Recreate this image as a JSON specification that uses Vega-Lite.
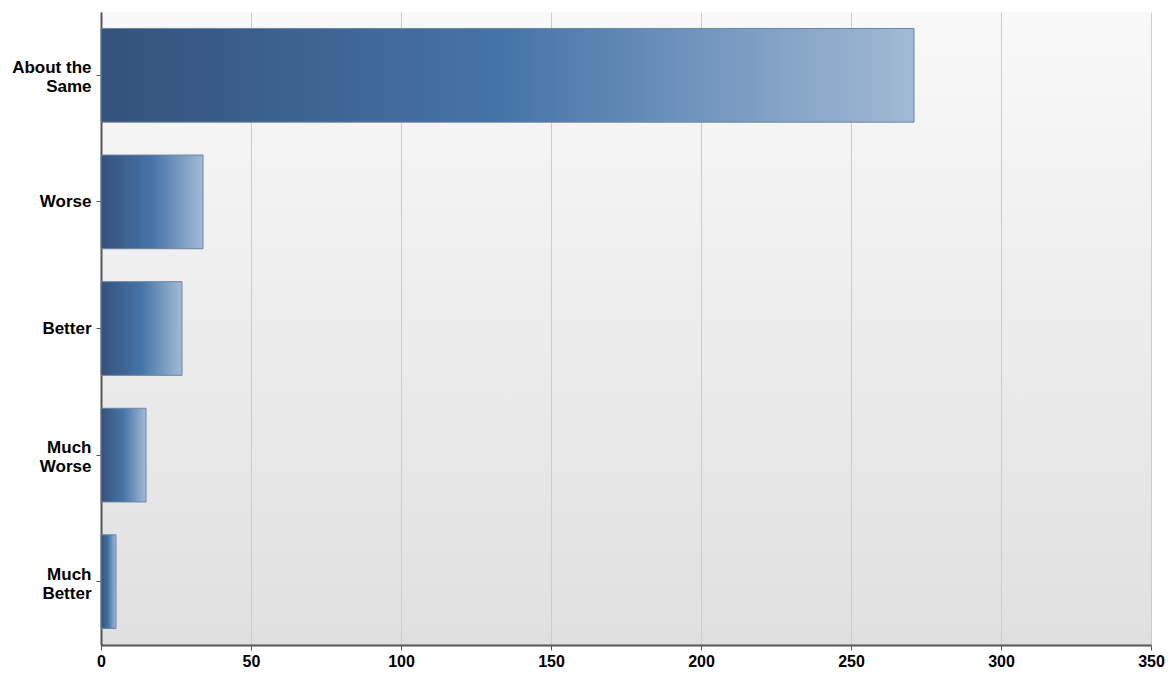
{
  "$schema": "https://vega.github.io/schema/vega-lite/v6.json",
  "width": 1050,
  "height": 633,
  "autosize": {"type": "none"},
  "padding": {"left": 101, "top": 12, "right": 17, "bottom": 28},
  "background": "#ffffff",
  "config": {
    "view": {
      "stroke": null,
      "fill": {"gradient": "linear", "x1": 0, "y1": 0, "x2": 0, "y2": 1, "stops": [{"offset": 0, "color": "#f9f9f9"}, {"offset": 1, "color": "#e0e0e0"}]}
    },
    "font": "Liberation Sans"
  },
  "data": {
    "values": [
      {"category": "About the Same", "count": 271},
      {"category": "Worse", "count": 34},
      {"category": "Better", "count": 27},
      {"category": "Much Worse", "count": 15},
      {"category": "Much Better", "count": 5}
    ]
  },
  "mark": {
    "type": "bar",
    "stroke": "#6f849f",
    "strokeWidth": 1,
    "color": {
      "gradient": "linear", "x1": 0, "y1": 0, "x2": 1, "y2": 0,
      "stops": [
        {"offset": 0, "color": "#34527a"},
        {"offset": 0.5, "color": "#4674a8"},
        {"offset": 1, "color": "#a2bad5"}
      ]
    }
  },
  "encoding": {
    "y": {
      "field": "category",
      "type": "nominal",
      "sort": null,
      "scale": {"paddingInner": 0.26, "paddingOuter": 0.13},
      "axis": {
        "title": null,
        "labelExpr": "datum.label == 'About the Same' ? ['About the', 'Same'] : split(datum.label, ' ')",
        "labelFont": "Liberation Sans",
        "labelFontWeight": "bold",
        "labelFontSize": 17,
        "labelColor": "#000000",
        "labelPadding": 5,
        "labelLineHeight": 19,
        "labelOffset": {"condition": {"test": "indexof(datum.value, ' ') > 0", "value": -7}, "value": 0},
        "domainColor": "#555555",
        "domainWidth": 2,
        "tickColor": "#555555",
        "tickSize": 5,
        "grid": false
      }
    },
    "x": {
      "field": "count",
      "type": "quantitative",
      "scale": {"domain": [0, 350], "nice": false},
      "axis": {
        "title": null,
        "values": [0, 50, 100, 150, 200, 250, 300, 350],
        "labelFont": "Liberation Sans",
        "labelFontWeight": "bold",
        "labelFontSize": 16,
        "labelFlush": false,
        "labelColor": "#000000",
        "labelPadding": 3,
        "domainColor": "#555555",
        "domainWidth": 2,
        "tickColor": "#555555",
        "tickSize": 5,
        "grid": true,
        "gridColor": "#cccccc",
        "gridWidth": 1
      }
    }
  }
}
